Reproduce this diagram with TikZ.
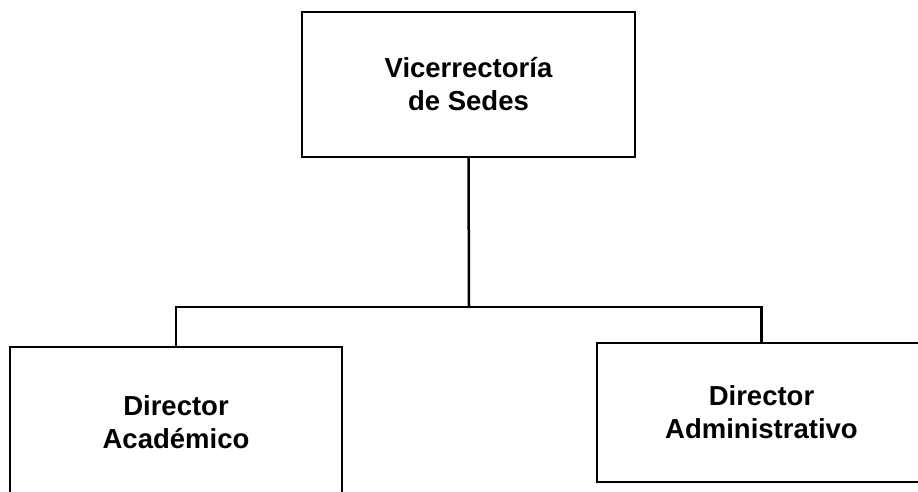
\documentclass[tikz,border=0pt]{standalone}
\usepackage{fontspec}
\setmainfont{Liberation Sans}

\begin{document}
\begin{tikzpicture}[x=1pt,y=-1pt,box/.style = {rectangle,draw=black,line width=2.5pt,align=center,font=\bfseries\fontsize{27.5}{33}\selectfont,inner sep=0pt,outer sep=0mm}]
\useasboundingbox (0,0) rectangle (918,491);
\clip (0,0) rectangle (918,491);
    \node[box,minimum width=333pt,minimum height=145pt] (vice) at (468.5,84.5) {Vicerrectoría\\de Sedes};
    \node[box,minimum width=332pt,minimum height=150pt] (dirac) at (176,422) {Director\\Académico};
    \node[box,minimum width=329pt,minimum height=139pt] (dirad) at (761.5,412.5) {Director\\Administrativo};
    \coordinate (mid) at (469,307);
\draw[line width=2.5pt] (vice.south) -- (mid);
\draw[line width=2.5pt] (dirac.north) |- (mid) -| (dirad.north);
\end{tikzpicture}
\end{document}
